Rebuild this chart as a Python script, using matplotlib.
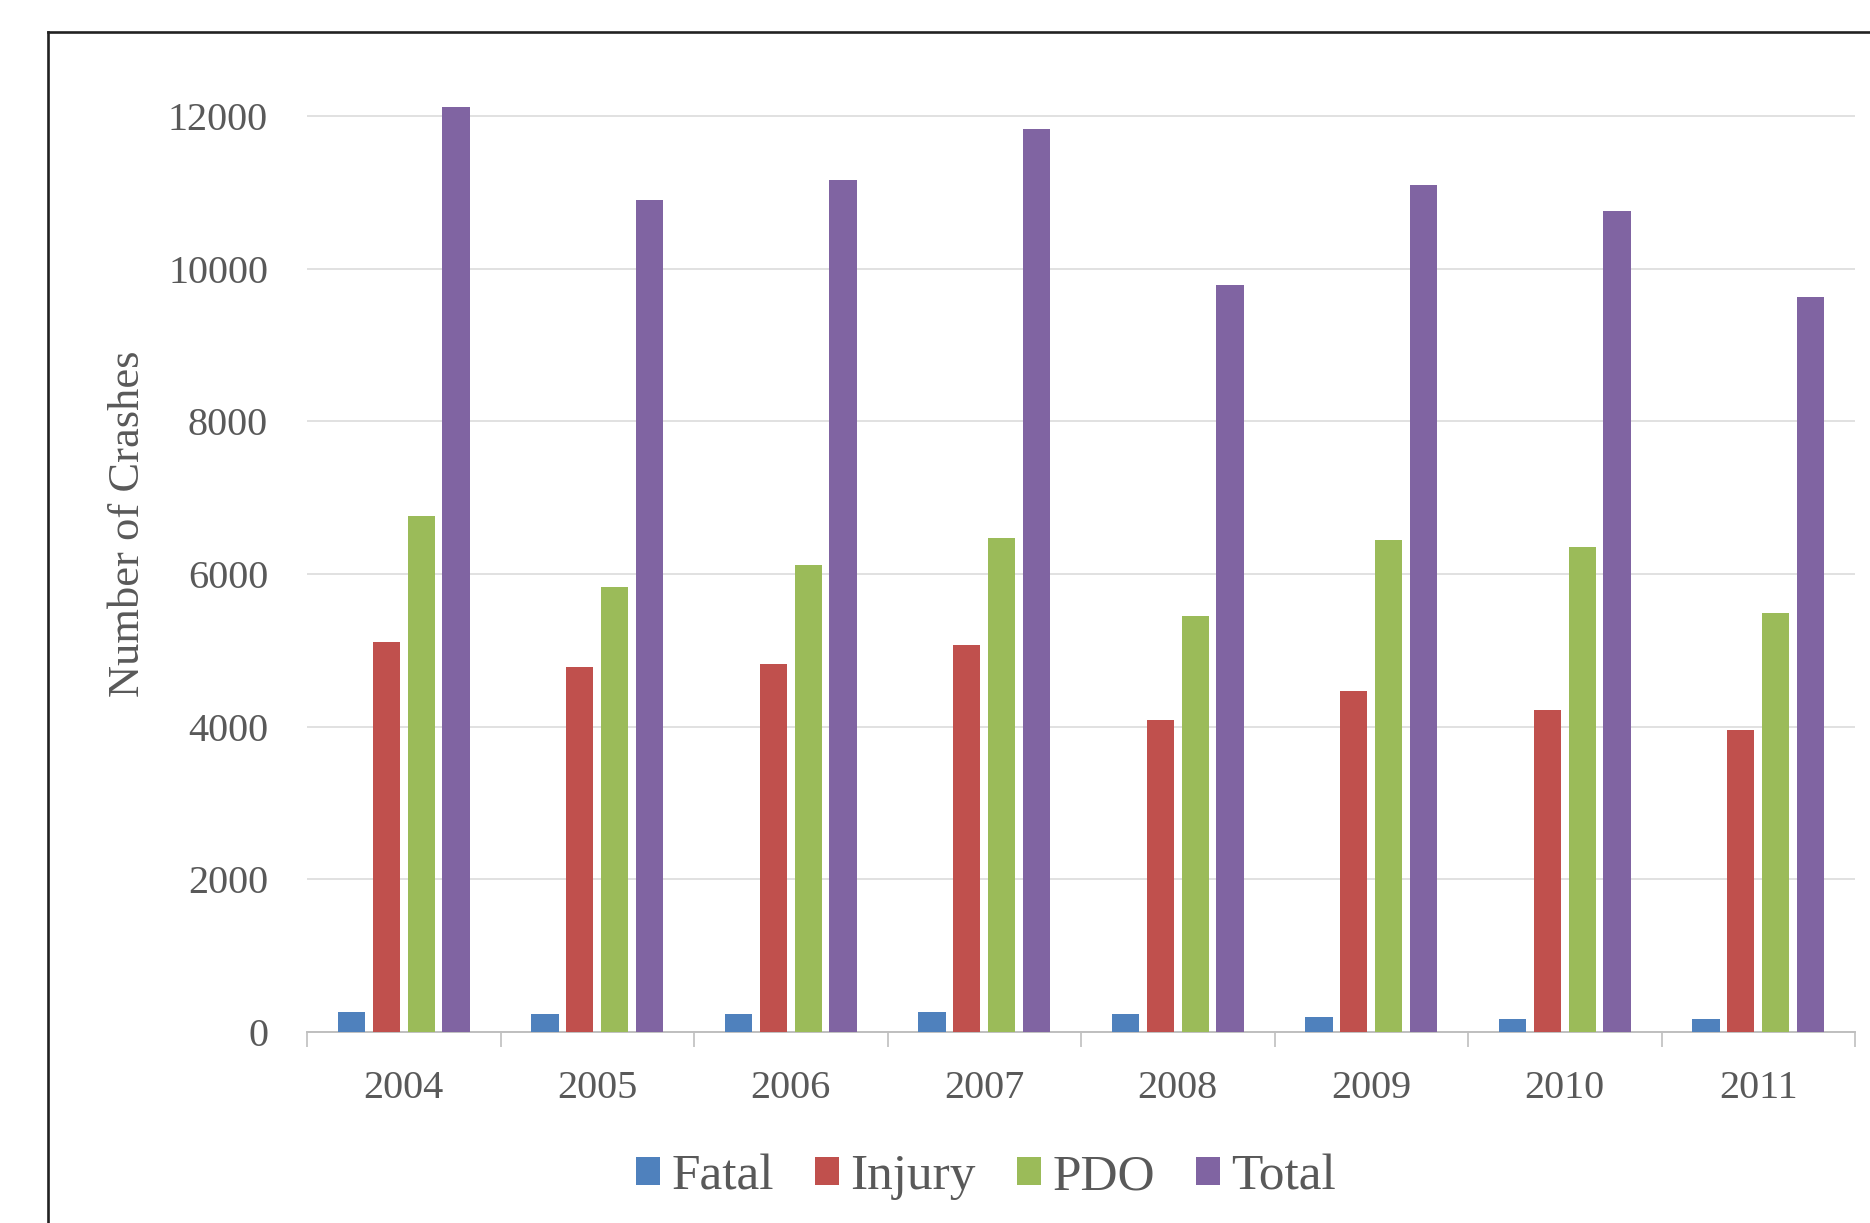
"""Crash counts by severity, 2004-2011, grouped bar chart."""

import matplotlib

matplotlib.use("Agg")
import matplotlib.pyplot as plt
import numpy as np
from matplotlib.lines import Line2D
from matplotlib.patches import Patch

years = ["2004", "2005", "2006", "2007", "2008", "2009", "2010", "2011"]
fatal = [262, 231, 231, 262, 231, 197, 166, 166]
injury = [5109, 4786, 4821, 5074, 4088, 4467, 4214, 3957]
pdo = [6764, 5834, 6122, 6476, 5454, 6446, 6350, 5485]
total = [12120, 10903, 11161, 11833, 9785, 11094, 10747, 9629]

series_names = ["Fatal", "Injury", "PDO", "Total"]
series_colors = ["#4F81BD", "#C0504D", "#9BBB59", "#8064A2"]
y_ticks = [0, 2000, 4000, 6000, 8000, 10000, 12000]

TEXT_GREY = "#595959"
W, H = 1870, 1223

plt.rcParams["font.family"] = ["Liberation Serif", "DejaVu Serif"]

fig = plt.figure(figsize=(W / 100, H / 100), dpi=100)
fig.patch.set_facecolor("white")

# plot area placed in pixel terms of the original
ax = fig.add_axes([307 / W, (H - 1032) / H, 1548 / W, (1032 - 70) / H])

x = np.arange(len(years))
step = 0.18
bar_w = 0.14
for i, (vals, color) in enumerate(zip([fatal, injury, pdo, total], series_colors)):
    ax.bar(x + (i - 1.5) * step, vals, width=bar_w, color=color, zorder=3)

ax.set_xlim(-0.5, len(years) - 0.5)
ax.set_ylim(0, 12600)
ax.set_yticks(y_ticks)
ax.set_yticklabels([str(v) for v in y_ticks])
ax.yaxis.grid(True, color="#d9d9d9", linewidth=1.1, zorder=0)
ax.set_axisbelow(True)

for side in ["top", "right", "left"]:
    ax.spines[side].set_visible(False)
ax.spines["bottom"].set_color("#bfbfbf")
ax.spines["bottom"].set_linewidth(1.4)

ax.set_xticks(x)
ax.set_xticklabels(years)
ax.set_xticks(np.arange(-0.5, len(years)), minor=True)
ax.tick_params(axis="x", which="major", length=0, pad=27, labelsize=29, labelcolor=TEXT_GREY)
ax.tick_params(axis="x", which="minor", length=11, width=1.2, color="#bfbfbf")
ax.tick_params(axis="y", length=0, pad=28, labelsize=29, labelcolor=TEXT_GREY)

fig.text(128 / W, 1 - 524 / H, "Number of Crashes", rotation=90, ha="center", va="center",
         fontsize=32, color=TEXT_GREY)

handles = [Patch(facecolor=c, edgecolor="none") for c in series_colors]
fig.legend(handles, series_names, loc="center", bbox_to_anchor=(986 / W, 1 - 1177 / H), ncol=4,
           frameon=False, fontsize=37, labelcolor=TEXT_GREY, handlelength=0.47, handleheight=0.47,
           handletextpad=0.22, columnspacing=0.8)

# outer frame, cut off on the right and bottom like the source image
fx, fy = 48 / W, 1 - 32 / H
fig.add_artist(Line2D([fx, fx], [0, fy], transform=fig.transFigure, color="#222222", linewidth=1.9))
fig.add_artist(Line2D([fx, 1], [fy, fy], transform=fig.transFigure, color="#222222", linewidth=1.9))

fig.savefig("out.png", dpi=100)
